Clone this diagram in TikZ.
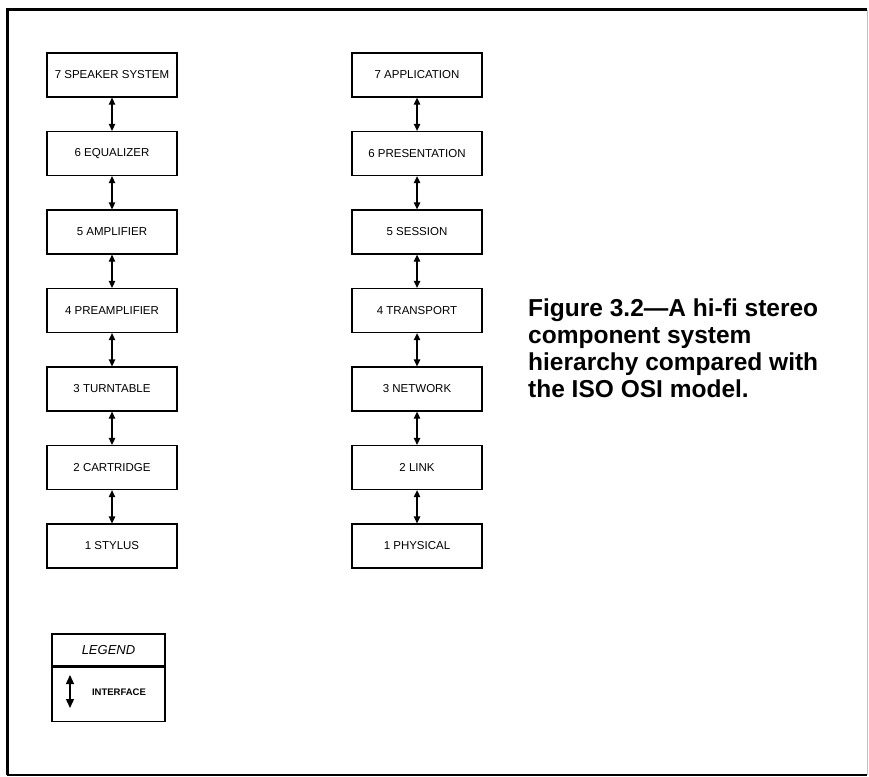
\documentclass[tikz,border=0pt]{standalone}
\usepackage{fontspec}
\setmainfont{Liberation Sans}
\usetikzlibrary{arrows.meta, positioning}
\tikzset{
block/.style={
  rectangle,
  draw,
  line width=1.3pt,
  text centered,
  minimum width=130pt,
  minimum height=44pt,
  font=\fontsize{11.5}{13}\selectfont
 },
line/.style={draw, line width=1.3pt, {Triangle[width=6.5pt,length=7pt]}-{Triangle[width=6.5pt,length=7pt]}}
}

\begin{document}
\begin{tikzpicture}[x=1pt,y=-1pt,
keybox/.style={draw,line width=1.3pt,minimum width=113pt,inner sep=0pt}]
 \useasboundingbox (0,0) rectangle (869,776);
 % frame
 \draw[line width=3pt] (867,10) -- (7,10) -- (7,775);
 \draw[line width=1.5pt] (7,775) -- (867,775);
 \draw[black!25,line width=0.8pt] (867,10) -- (867,775);

 % the two stacks
 \foreach \N/\L/\R in {7/SPEAKER SYSTEM/APPLICATION,6/EQUALIZER/PRESENTATION,
   5/AMPLIFIER/SESSION,4/PREAMPLIFIER/TRANSPORT,3/TURNTABLE/NETWORK,
   2/CARTRIDGE/LINK,1/STYLUS/PHYSICAL}
 {\node[block] (L\N) at (112,{75+(7-\N)*78.5}) {\N\ \L};
  \node[block] (R\N) at (417,{75+(7-\N)*78.5}) {\N\ \R};}
 \foreach \N in {7,...,2}
 {\pgfmathtruncatemacro{\M}{\N-1}
  \draw[line] (L\N) -- (L\M);
  \draw[line] (R\N) -- (R\M);}

 % legend
 \node[keybox,minimum height=32pt,font=\itshape\fontsize{13}{14}\selectfont] (legend) at (108.5,650) {LEGEND};
 \node[keybox,minimum height=54pt,below=0pt of legend] (key) {};
 \coordinate (itop) at (70,675);
 \coordinate (ibot) at (70,708);
 \draw[line,{Triangle[width=8pt,length=9pt]}-{Triangle[width=8pt,length=9pt]}] (itop) -- (ibot);
 \node[font=\bfseries\fontsize{9.5}{11}\selectfont] (iface) at (119,692) {INTERFACE};

 \node[anchor=north west,inner sep=0pt,align=left,font=\bfseries\fontsize{24.5}{26.8}\selectfont] (caption) at (528,299)
 {Figure 3.2---A hi-fi stereo\\component system\\hierarchy compared with\\the ISO OSI model.};
\end{tikzpicture}
\end{document}
